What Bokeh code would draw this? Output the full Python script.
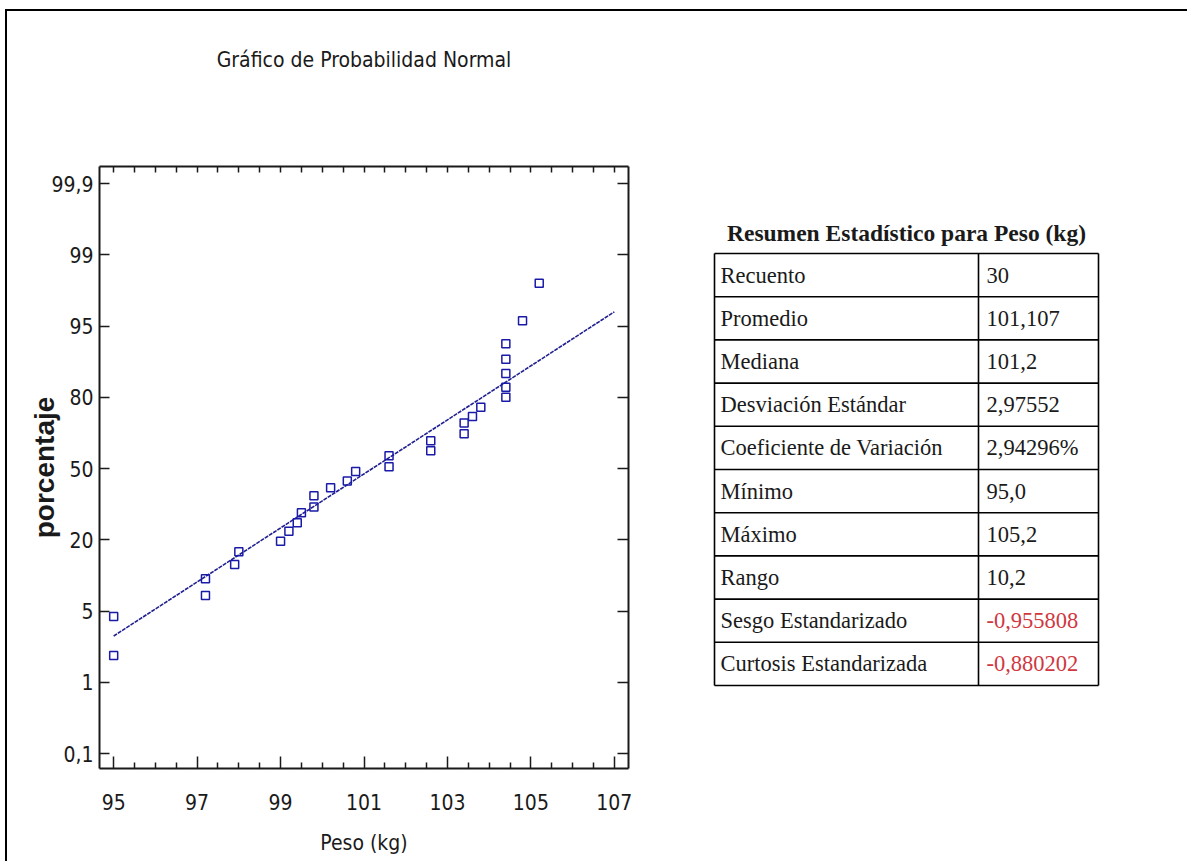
import numpy as np
from bokeh.plotting import figure
from bokeh.models import Range1d, FixedTicker, LinearAxis
from bokeh.layouts import row
from bokeh.embed import file_html
from bokeh.resources import INLINE
from bokeh.core.properties import value

# ---------------- data ----------------
chart_title = "Gráfico de Probabilidad Normal"
x_title = "Peso (kg)"
y_title = "porcentaje"

peso = [95.0, 95.0, 97.2, 97.2, 97.9, 98.0, 99.0, 99.2, 99.4, 99.5,
        99.8, 99.8, 100.2, 100.6, 100.8, 101.6, 101.6, 102.6, 102.6, 103.4,
        103.4, 103.6, 103.8, 104.4, 104.4, 104.4, 104.4, 104.4, 104.8, 105.2]
porcentaje = [2.5, 4.7, 8.3, 11.8, 14.8, 17.5, 19.7, 23.6, 27.2, 31.4,
              33.8, 38.6, 41.9, 44.8, 48.8, 50.8, 55.4, 57.5, 61.7, 64.7,
              69.2, 71.9, 75.8, 80.0, 82.1, 85.0, 88.0, 91.3, 95.3, 97.4]

fit_peso = [95.0, 107.0]
fit_porcentaje = [3.6, 95.8]

x_ticks = [95, 97, 99, 101, 103, 105, 107]
y_tick_pct = [0.1, 1, 5, 20, 50, 80, 95, 99, 99.9]
y_tick_labels = ["0,1", "1", "5", "20", "50", "80", "95", "99", "99,9"]

table_title = "Resumen Estadístico para Peso (kg)"
stat_names = ["Recuento", "Promedio", "Mediana", "Desviación Estándar",
              "Coeficiente de Variación", "Mínimo", "Máximo", "Rango",
              "Sesgo Estandarizado", "Curtosis Estandarizada"]
stat_values = ["30", "101,107", "101,2", "2,97552", "2,94296%", "95,0",
               "105,2", "10,2", "-0,955808", "-0,880202"]
stat_flag = [False] * 8 + [True, True]

# ---------------- styles ----------------
NARROW = "Liberation Sans Narrow, Arial Narrow, DejaVu Sans Condensed, Liberation Sans, sans-serif"
SERIF = "Liberation Serif"
INK = "#1a1a1a"
BLUE = "#1a1aa8"

# probability scale: tick labels are equally spaced
tick_idx = np.arange(len(y_tick_pct)) - (len(y_tick_pct) - 1) / 2


def prob_pos(p):
    return np.interp(p, y_tick_pct, tick_idx)


FIG_H = 850
MB_TOP, MB_BOTTOM = 155, 93

p = figure(width=660, height=FIG_H,
           x_range=Range1d(94.66, 107.34), y_range=Range1d(-4.21, 4.24),
           min_border_left=92, min_border_right=39,
           min_border_top=MB_TOP, min_border_bottom=MB_BOTTOM,
           x_axis_location=None, y_axis_location=None,
           toolbar_location=None, output_backend="svg")
p.title_location = None
p.grid.visible = False
p.outline_line_color = None

minor_x = [v for v in np.arange(94.5, 107.51, 0.5) if v not in x_ticks]

xb = LinearAxis(ticker=FixedTicker(ticks=x_ticks, minor_ticks=minor_x))
xb.major_tick_in = 12
xb.major_tick_out = 0
xb.minor_tick_in = 6
xb.minor_tick_out = 0
xb.major_label_standoff = 25
xb.major_label_text_font = NARROW
xb.major_label_text_font_size = "21px"
xb.major_label_text_color = INK
xb.axis_label = x_title
xb.axis_label_text_font = NARROW
xb.axis_label_text_font_size = "21px"
xb.axis_label_text_font_style = "normal"
xb.axis_label_text_color = INK
xb.axis_label_standoff = 18
p.add_layout(xb, "below")

# top axis: mirrored ticks; its axis label carries the chart title
xt = LinearAxis(ticker=FixedTicker(ticks=x_ticks, minor_ticks=minor_x))
xt.major_tick_in = 6
xt.major_tick_out = 0
xt.minor_tick_in = 6
xt.minor_tick_out = 0
xt.major_label_text_font_size = "0px"
xt.major_label_text_color = None
xt.major_label_standoff = 0
xt.axis_label = chart_title
xt.axis_label_text_font = NARROW
xt.axis_label_text_font_style = "normal"
xt.axis_label_text_font_size = "21px"
xt.axis_label_text_color = INK
xt.axis_label_standoff = 95
p.add_layout(xt, "above")

yl = LinearAxis(ticker=FixedTicker(ticks=list(tick_idx), minor_ticks=[]))
yl.major_label_overrides = {float(t): s for t, s in zip(tick_idx, y_tick_labels)}
yl.major_tick_in = 10
yl.major_tick_out = 0
yl.major_label_standoff = 6
yl.major_label_text_font = NARROW
yl.major_label_text_font_size = "21px"
yl.major_label_text_color = INK
yl.axis_label = y_title
yl.axis_label_text_font = "Liberation Sans"
yl.axis_label_text_font_style = "bold"
yl.axis_label_text_font_size = "28px"
yl.axis_label_text_color = INK
yl.axis_label_standoff = -12
p.add_layout(yl, "left")

yr = LinearAxis(ticker=FixedTicker(ticks=list(tick_idx), minor_ticks=[]))
yr.major_tick_in = 11
yr.major_tick_out = 0
yr.major_label_text_font_size = "0px"
yr.major_label_text_color = None
p.add_layout(yr, "right")

for ax in (xb, xt, yl, yr):
    ax.axis_line_color = INK
    ax.axis_line_width = 2
    ax.major_tick_line_color = INK
    ax.major_tick_line_width = 1.5
    ax.minor_tick_line_color = INK
    ax.minor_tick_line_width = 1.5

p.line(x=fit_peso, y=prob_pos(fit_porcentaje), line_color="#202090",
       line_width=1.6, line_dash="4 1")
p.scatter(x=peso, y=prob_pos(porcentaje), marker="square", size=8,
          fill_color=None, line_color=BLUE, line_width=1.5)

# ---------------- table (ranges in page pixels) ----------------
X0, TW = 667, 520
FRAME_TOP, FRAME_BOTTOM = 166, 768
t = figure(width=TW, height=FIG_H,
           x_range=Range1d(X0, X0 + TW), y_range=Range1d(FRAME_BOTTOM, FRAME_TOP),
           min_border_left=0, min_border_right=0,
           min_border_top=MB_TOP, min_border_bottom=MB_BOTTOM,
           x_axis_location=None, y_axis_location=None,
           toolbar_location=None, output_backend="svg")
t.title_location = None
t.grid.visible = False
t.outline_line_color = None

x_left, x_mid, x_right = 714, 978, 1098
y_top, row_h = 253, 43.2
n = len(stat_names)
y_lines = [y_top + i * row_h for i in range(n + 1)]
t.segment(x0=[x_left] * (n + 1), x1=[x_right] * (n + 1), y0=y_lines, y1=y_lines,
          line_color="black", line_width=1.6)
t.segment(x0=[x_left, x_mid, x_right], x1=[x_left, x_mid, x_right],
          y0=[y_top] * 3, y1=[y_lines[-1]] * 3, line_color="black", line_width=1.6)

centers = [y_top + (i + 0.5) * row_h for i in range(n)]
t.text(x=[x_left + 6] * n, y=centers, text=stat_names, text_baseline="middle",
       text_font=value(SERIF), text_font_size="22.5px", text_color=INK)
t.text(x=[x_mid + 8] * n, y=centers, text=stat_values, text_baseline="middle",
       text_font=value(SERIF), text_font_size="22.5px",
       text_color=["#d0383f" if f else INK for f in stat_flag])
t.text(x=[(x_left + x_right) / 2], y=[232], text=[table_title],
       text_align="center", text_baseline="middle",
       text_font=value(SERIF), text_font_style="bold",
       text_font_size="23.5px", text_color=INK)

layout = row(p, t, margin=(9, 0, 0, 5),
             styles={"border-top": "2px solid black",
                     "border-left": "2px solid black"})

open("out.html", "w").write(file_html(layout, INLINE))
